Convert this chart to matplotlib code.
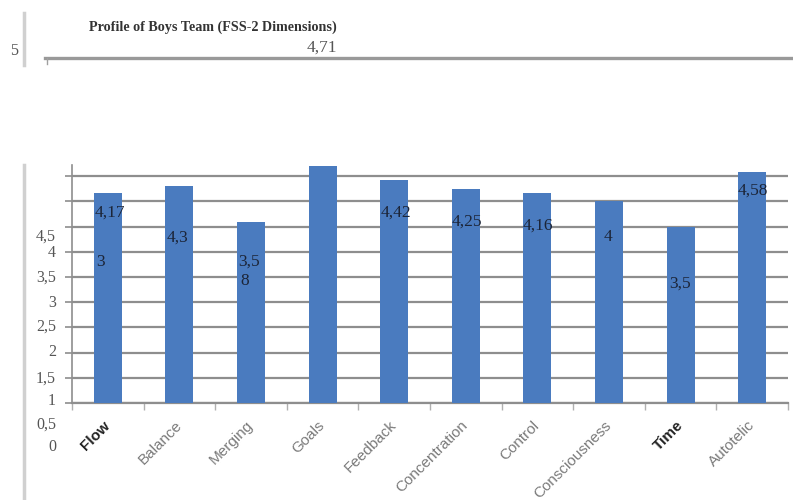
import numpy as np
import matplotlib
matplotlib.use("Agg")
import matplotlib.pyplot as plt
from matplotlib.lines import Line2D
from matplotlib.transforms import ScaledTranslation

# ---- data ----
categories = ["Flow", "Balance", "Merging", "Goals", "Feedback",
              "Concentration", "Control", "Consciousness", "Time", "Autotelic"]
values = [4.173, 4.3, 3.58, 4.71, 4.42, 4.25, 4.16, 4.0, 3.5, 4.58]
bold_categories = ["Flow", "Time"]
ytick_labels = ["5", "4,5", "4", "3,5", "3", "2,5", "2", "1,5", "1", "0,5", "0"]
title = "Profile of Boys Team (FSS-2 Dimensions)"

def fmt(v):
    return f"{v:g}".replace(".", ",")

value_labels = [fmt(v) for v in values]

# ---- layout (pixels of the 793x500 canvas) ----
W, H = 793, 500
fig = plt.figure(figsize=(W / 100, H / 100), dpi=100)
fig.patch.set_facecolor("white")

def fx(px):
    return px / W

def fy(py):
    return 1 - py / H

ax = fig.add_axes([fx(72), fy(403), (788 - 72) / W, (403 - 165) / H])
x = np.arange(len(categories))
ax.bar(x, values, width=0.39, color="#4a7bbf", zorder=3)
ax.set_xlim(-0.5, len(categories) - 0.5)
ax.set_ylim(0, 4.72)

grid_c = "#8e8e8e"
ax.set_yticks(np.arange(0, 4.51, 0.5))
ax.set_yticklabels([])
ax.yaxis.grid(True, color=grid_c, lw=1.6, zorder=1)
ax.tick_params(axis="y", length=5, width=1.2, color=grid_c)
for s in ["top", "right"]:
    ax.spines[s].set_visible(False)
ax.spines["left"].set_color(grid_c)
ax.spines["bottom"].set_color(grid_c)
ax.spines["left"].set_linewidth(1.2)
ax.spines["bottom"].set_linewidth(1.6)

ax.set_xticks(np.arange(-0.5, len(categories), 1), minor=True)
ax.tick_params(axis="x", which="minor", length=5, width=1, color="#b0b0b0")
ax.set_xticks(x)
ax.set_xticklabels(categories, rotation=45, ha="right", va="top",
                   fontsize=11, color="#7a7a7a", family="Liberation Sans")
ax.tick_params(axis="x", which="major", length=0, pad=11)
shift = ScaledTranslation(5 / 100, 0, fig.dpi_scale_trans)
for lab in ax.get_xticklabels():
    lab.set_transform(lab.get_transform() + shift)
    if lab.get_text() in bold_categories:
        lab.set_fontweight("bold")
        lab.set_color("#222222")

# misplaced y-axis labels
ytick_px = [(18, 51), (56, 237), (56, 253), (56, 278), (56, 303), (56, 327),
            (56, 352), (56, 379), (56, 401), (56, 425), (56, 447)]
for lab, (px, py) in zip(ytick_labels, ytick_px):
    fig.text(fx(px), fy(py), lab, ha="right", va="center", fontsize=11.5,
             color="#555555", family="Liberation Serif")

# value labels (as they appear, some split)
val_c = "#1c2538"
label_layout = [
    # (index, split_at, [(x_px, y_px, ha), ...])
    (0, 4, [(95, 213, "left"), (96, 262, "left")]),
    (1, None, [(167, 238, "left")]),
    (2, 3, [(238, 262, "left"), (240, 281, "left")]),
    (3, None, [(322, 48, "center")]),
    (4, None, [(381, 213, "left")]),
    (5, None, [(452, 222, "left")]),
    (6, None, [(523, 226, "left")]),
    (7, None, [(608, 237, "center")]),
    (8, None, [(669, 284, "left")]),
    (9, None, [(738, 191, "left")]),
]
for idx, split, pos in label_layout:
    t = value_labels[idx]
    parts = [t] if split is None else [t[:split], t[split:]]
    for part, (px, py, ha) in zip(parts, pos):
        c = "#555555" if idx == 3 else val_c
        fig.text(fx(px), fy(py), part, ha=ha, va="center", fontsize=12.5,
                 color=c, family="Liberation Serif")

# title
fig.text(fx(213), fy(27), title, ha="center", va="center", fontsize=10.2,
         fontweight="bold", color="#333333", family="Liberation Serif")

# stray top gridline
fig.add_artist(Line2D([fx(45), fx(793)], [fy(58), fy(58)],
                      transform=fig.transFigure, color="#999999", lw=2.4))
fig.add_artist(Line2D([fx(47), fx(47)], [fy(58), fy(64)],
                      transform=fig.transFigure, color="#a0a0a0", lw=1))
# chart border pieces
for y0, y1 in [(13, 65), (165, 500)]:
    fig.add_artist(Line2D([fx(24), fx(24)], [fy(y0), fy(y1)],
                          transform=fig.transFigure, color="#d0d0d0", lw=2.5))

fig.savefig("out.png", dpi=100)
